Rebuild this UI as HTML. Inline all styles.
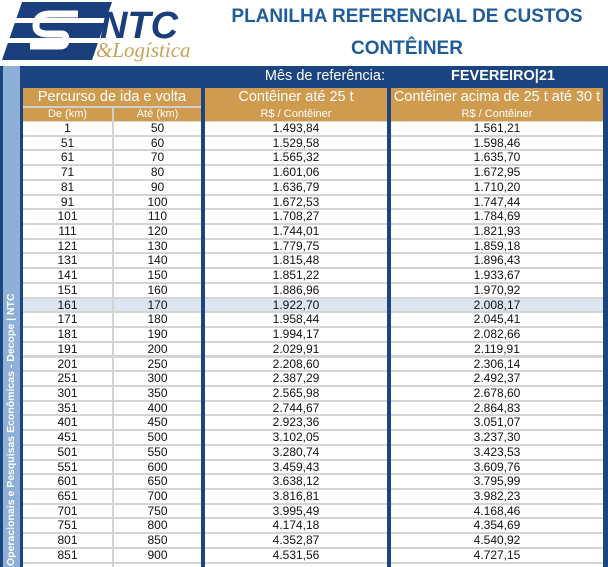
<!DOCTYPE html>
<html><head><meta charset="utf-8"><style>
*{margin:0;padding:0;box-sizing:border-box}
html,body{width:608px;height:567px;overflow:hidden}
body{background:#fff;font-family:"Liberation Sans",sans-serif}
#w{position:relative;width:608px;height:567px;overflow:hidden}
.a{position:absolute}
.t{color:#1f5c99;font-weight:bold;font-size:19px;text-align:center;width:380px;left:217px}
.row{position:absolute;left:23px;width:580px;height:12.7px;display:flex;font-size:12px;color:#111;line-height:13px}
.row div{text-align:center;background:#fff}
.c1{width:89px}.c2{width:87px;margin-left:2px}.c3{width:182px;margin-left:4px}.c4{width:212px;margin-left:4px}
.hl div{background:#dce6f1}
.h{color:#fff;text-align:center}
</style></head><body><div id="w">
<svg class="a" style="left:0;top:0" width="200" height="64" viewBox="0 0 200 64">
<polygon points="22,2 112,2 92,60 2,60" fill="#1b3f7d"/>
<rect x="0" y="18" width="110" height="5" fill="#fff"/>
<rect x="0" y="38" width="110" height="5" fill="#fff"/>
<path d="M78,14 L50,14 Q36,14 36,26 Q36,34 48,34 L62,34 Q66,34 66,40 Q66,46 60,46 L30,46" stroke="#fff" stroke-width="7" fill="none"/>
<text x="100" y="38" font-family="Liberation Sans" font-weight="bold" font-style="italic" font-size="38" fill="#1b3f7d">NTC</text>
<text x="96" y="57" font-family="Liberation Serif" font-style="italic" font-size="21" fill="#c9a25a">&amp;Logística</text>
</svg>
<div class="a t" style="top:6px">PLANILHA REFERENCIAL DE CUSTOS</div>
<div class="a t" style="top:38px">CONTÊINER</div>
<div class="a" style="left:0;top:66px;width:608px;height:501px;background:#1b4580"></div>
<div class="a" style="left:3px;top:66px;width:17px;height:501px;background:#8fb0d6"></div>
<div class="a" style="left:5px;top:293px;width:13px;height:274px;writing-mode:vertical-rl;transform:rotate(180deg);color:#fff;font-size:10.5px;font-weight:bold;white-space:nowrap;line-height:13px;text-align:right">Operacionais e Pesquisas Econômicas - Decope | NTC</div>
<div class="a" style="left:23px;top:120px;width:580px;height:447px;background:#d4d4d4"></div>
<div class="a h" style="left:185px;top:68px;width:200px;font-size:14.5px;text-align:right">Mês de referência:</div>
<div class="a h" style="left:391px;top:68px;width:212px;font-size:14.5px;text-align:left;padding-left:60px;font-weight:bold">FEVEREIRO|21</div>
<div class="a" style="left:23px;top:88px;width:178px;height:33px;background:#cf9b4f"></div>
<div class="a" style="left:23px;top:106px;width:178px;height:2px;background:#d0d0d0"></div>
<div class="a" style="left:112px;top:108px;width:2px;height:13px;background:#d0d0d0"></div>
<div class="a" style="left:205px;top:88px;width:182px;height:33px;background:#cf9b4f"></div>
<div class="a" style="left:391px;top:88px;width:212px;height:33px;background:#cf9b4f"></div>
<div class="a h" style="left:23px;top:89px;width:178px;font-size:14.5px">Percurso de ida e volta</div>
<div class="a h" style="left:205px;top:89px;width:182px;font-size:14.5px">Contêiner  até 25 t</div>
<div class="a h" style="left:391px;top:89px;width:212px;font-size:14.5px">Contêiner acima de 25 t até 30 t</div>
<div class="a h" style="left:23px;top:108px;width:89px;font-size:11px">De (km)</div>
<div class="a h" style="left:114px;top:108px;width:87px;font-size:11px">Até (km)</div>
<div class="a h" style="left:205px;top:108px;width:182px;font-size:11px">R$ / Contêiner</div>
<div class="a h" style="left:391px;top:108px;width:212px;font-size:11px">R$ / Contêiner</div>
<div class="a" style="left:201px;top:120px;width:4px;height:447px;background:#1b4580"></div>
<div class="a" style="left:387px;top:120px;width:4px;height:447px;background:#1b4580"></div>
<div id="rows"></div>
</div>
<script>
var d=[[1,50,"1.493,84","1.561,21"],[51,60,"1.529,58","1.598,46"],[61,70,"1.565,32","1.635,70"],[71,80,"1.601,06","1.672,95"],[81,90,"1.636,79","1.710,20"],[91,100,"1.672,53","1.747,44"],[101,110,"1.708,27","1.784,69"],[111,120,"1.744,01","1.821,93"],[121,130,"1.779,75","1.859,18"],[131,140,"1.815,48","1.896,43"],[141,150,"1.851,22","1.933,67"],[151,160,"1.886,96","1.970,92"],[161,170,"1.922,70","2.008,17"],[171,180,"1.958,44","2.045,41"],[181,190,"1.994,17","2.082,66"],[191,200,"2.029,91","2.119,91"],[201,250,"2.208,60","2.306,14"],[251,300,"2.387,29","2.492,37"],[301,350,"2.565,98","2.678,60"],[351,400,"2.744,67","2.864,83"],[401,450,"2.923,36","3.051,07"],[451,500,"3.102,05","3.237,30"],[501,550,"3.280,74","3.423,53"],[551,600,"3.459,43","3.609,76"],[601,650,"3.638,12","3.795,99"],[651,700,"3.816,81","3.982,23"],[701,750,"3.995,49","4.168,46"],[751,800,"4.174,18","4.354,69"],[801,850,"4.352,87","4.540,92"],[851,900,"4.531,56","4.727,15"]];
var h="";d.forEach(function(r,i){h+='<div class="row'+(i==12?' hl':'')+'" style="top:'+(122+i*14.72).toFixed(2)+'px"><div class="c1">'+r[0]+'</div><div class="c2">'+r[1]+'</div><div class="c3">'+r[2]+'</div><div class="c4">'+r[3]+'</div></div>'});
h+='<div class="row" style="top:563.6px;height:3.4px;overflow:hidden"><div class="c1"></div><div class="c2"></div><div class="c3"></div><div class="c4"></div></div>';
document.getElementById("rows").outerHTML=h;
</script>
</body></html>
